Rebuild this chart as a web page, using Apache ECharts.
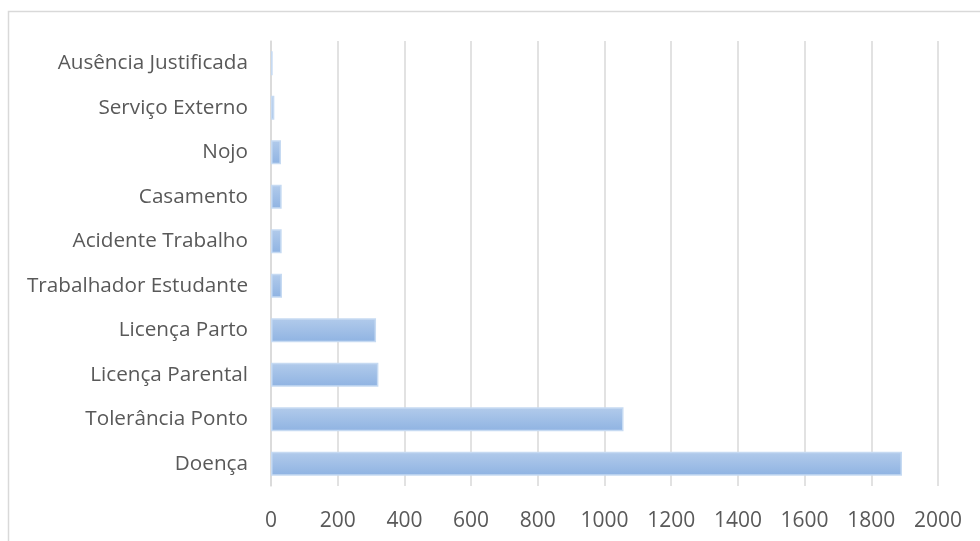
<!DOCTYPE html>
<html>
<head>
<meta charset="utf-8">
<script src="https://cdn.jsdelivr.net/npm/echarts@6/dist/echarts.min.js"></script>
<style>
html,body{margin:0;padding:0;background:#fff;}
#chart{width:980px;height:541px;}
</style>
</head>
<body>
<div id="chart"></div>
<script>
const categories = ["Doença","Tolerância Ponto","Licença Parental","Licença Parto","Trabalhador Estudante","Acidente Trabalho","Casamento","Nojo","Serviço Externo","Ausência Justificada"];
const values = [1892, 1057, 322, 315, 33, 32, 32, 30, 10, 5];
const xTicks = [0, 200, 400, 600, 800, 1000, 1200, 1400, 1600, 1800, 2000];

const chart = echarts.init(document.getElementById('chart'), null, {renderer:'canvas'});
const font = '"Open Sans", Lato, sans-serif';
chart.setOption({
  animation: false,
  backgroundColor: '#ffffff',
  graphic: [{
    type: 'rect',
    shape: {x: 8.5, y: 11.5, width: 1100, height: 700},
    style: {fill: 'none', stroke: '#d9d9d9', lineWidth: 1.5},
    silent: true
  }],
  grid: {left: 271, right: 42, top: 41, bottom: 55, containLabel: false},
  xAxis: {
    type: 'value',
    min: xTicks[0],
    max: xTicks[xTicks.length - 1],
    interval: 200,
    axisLine: {show: false},
    axisTick: {show: false},
    splitLine: {show: true, lineStyle: {color: '#d9d9d9', width: 1.5}},
    axisLabel: {color: '#595959', fontSize: 21, fontFamily: font, margin: 25,
      formatter: v => String(v)}
  },
  yAxis: {
    type: 'category',
    data: categories,
    axisLine: {show: true, lineStyle: {color: '#d9d9d9', width: 1.5}},
    axisTick: {show: false},
    axisLabel: {color: '#595959', fontSize: 20.7, fontFamily: font, margin: 23}
  },
  series: [{
    type: 'bar',
    data: values,
    barCategoryGap: '46%',
    itemStyle: {
      color: new echarts.graphic.LinearGradient(0, 0, 0, 1, [
        {offset: 0, color: '#b2cbeb'},
        {offset: 1, color: '#8fb3e2'}
      ]),
      borderColor: '#c6daf2',
      borderWidth: 1.5
    }
  }]
});
</script>
</body>
</html>
